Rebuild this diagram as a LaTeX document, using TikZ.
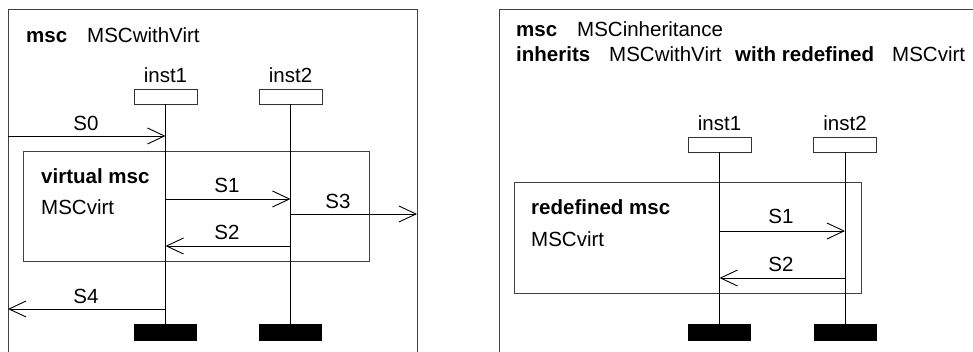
\documentclass[tikz,border=0pt]{standalone}
\usepackage{fontspec}
\setmainfont{Liberation Sans}
\usetikzlibrary{arrows.meta}
\begin{document}
\begin{tikzpicture}[x=1pt,y=-1pt,
  txt/.style={inner sep=0pt, anchor=base west, font=\fontsize{20.5}{24}\selectfont},
  btxt/.style={txt, font=\fontsize{20.5}{24}\selectfont\bfseries},
  mlbl/.style={inner sep=0pt, anchor=base, font=\fontsize{20.5}{24}\selectfont},
  frame/.style={draw=black!75, line width=1pt},
  inner/.style={draw=black!75, line width=1pt},
  head/.style={draw=black!80, line width=0.9pt, minimum width=63pt, minimum height=15pt, inner sep=0pt},
  stopbar/.style={fill=black, minimum width=63pt, minimum height=17pt, inner sep=0pt},
  life/.style={draw=black, line width=0.9pt},
  arr/.style={draw=black, line width=0.9pt, -{Straight Barb[length=17pt,width=16pt]}}
]
\useasboundingbox (0,0) rectangle (973,352);
\fill[white] (0,0) rectangle (973,352);

% ---------- left diagram ----------
\draw[frame] (8,360) -- (8,10) -- (417,10) -- (417,360);
\node[btxt] (lmsc) at (26,43) {msc};
\node[txt] (lname) at (87,43) {MSCwithVirt};

\node[head] (lh1) at (165.5,96.5) {};
\node[head] (lh2) at (290.5,96.5) {};
\node[mlbl] (lh1l) at (165.5,83) {inst1};
\node[mlbl] (lh2l) at (290.5,83) {inst2};
\node[stopbar] (le1) at (165.5,332.5) {};
\node[stopbar] (le2) at (290.5,332.5) {};

\draw[inner] (23,152) rectangle (369,262);
\node[btxt] (lvirt) at (41,184) {virtual msc};
\node[txt] (lvname) at (41,215) {MSCvirt};

\draw[life] (lh1.south) -- (le1.north);
\draw[life] (lh2.south) -- (le2.north);

\coordinate (s0a) at (8,136);
\coordinate (s3b) at (417,214);
\coordinate (s4b) at (8,309);
\coordinate (s1y) at (0,199);
\coordinate (s2y) at (0,246);

\draw[arr] (s0a) -- (s0a -| lh1);
\draw[arr] (s1y -| lh1) -- (s1y -| lh2);
\draw[arr] (s3b -| lh2) -- (s3b);
\draw[arr] (s2y -| lh2) -- (s2y -| lh1);
\draw[arr] (s4b -| lh1) -- (s4b);

\node[mlbl] (l0) at (86,131) {S0};
\node[mlbl] (l1) at (227,193) {S1};
\node[mlbl] (l3) at (338,209) {S3};
\node[mlbl] (l2) at (227,240) {S2};
\node[mlbl] (l4) at (86,303) {S4};

% ---------- right diagram ----------
\draw[frame] (499,360) -- (499,10) -- (980,10);
\node[btxt] (rmsc) at (516,37) {msc};
\node[txt] (rname) at (577,37) {MSCinheritance};
\node[btxt] (rinh) at (516,62) {inherits};
\node[txt] (rinh2) at (609,62) {MSCwithVirt};
\node[btxt] (rwith) at (735,62) {with redefined};
\node[txt] (rvirt) at (892,62) {MSCvirt};

\node[head] (rh1) at (719.5,144.5) {};
\node[head] (rh2) at (845,144.5) {};
\node[mlbl] (rh1l) at (719.5,131) {inst1};
\node[mlbl] (rh2l) at (845,131) {inst2};
\node[stopbar] (re1) at (719.5,332.5) {};
\node[stopbar] (re2) at (845,332.5) {};

\draw[inner] (514,183) rectangle (861,293);
\node[btxt] (rred) at (531,215) {redefined msc};
\node[txt] (rrname) at (531,247) {MSCvirt};

\draw[life] (rh1.south) -- (re1.north);
\draw[life] (rh2.south) -- (re2.north);

\coordinate (r1y) at (0,231);
\coordinate (r2y) at (0,278);
\draw[arr] (r1y -| rh1) -- (r1y -| rh2);
\draw[arr] (r2y -| rh2) -- (r2y -| rh1);

\node[mlbl] (rl1) at (781,224) {S1};
\node[mlbl] (rl2) at (781,272) {S2};
\end{tikzpicture}
\end{document}
